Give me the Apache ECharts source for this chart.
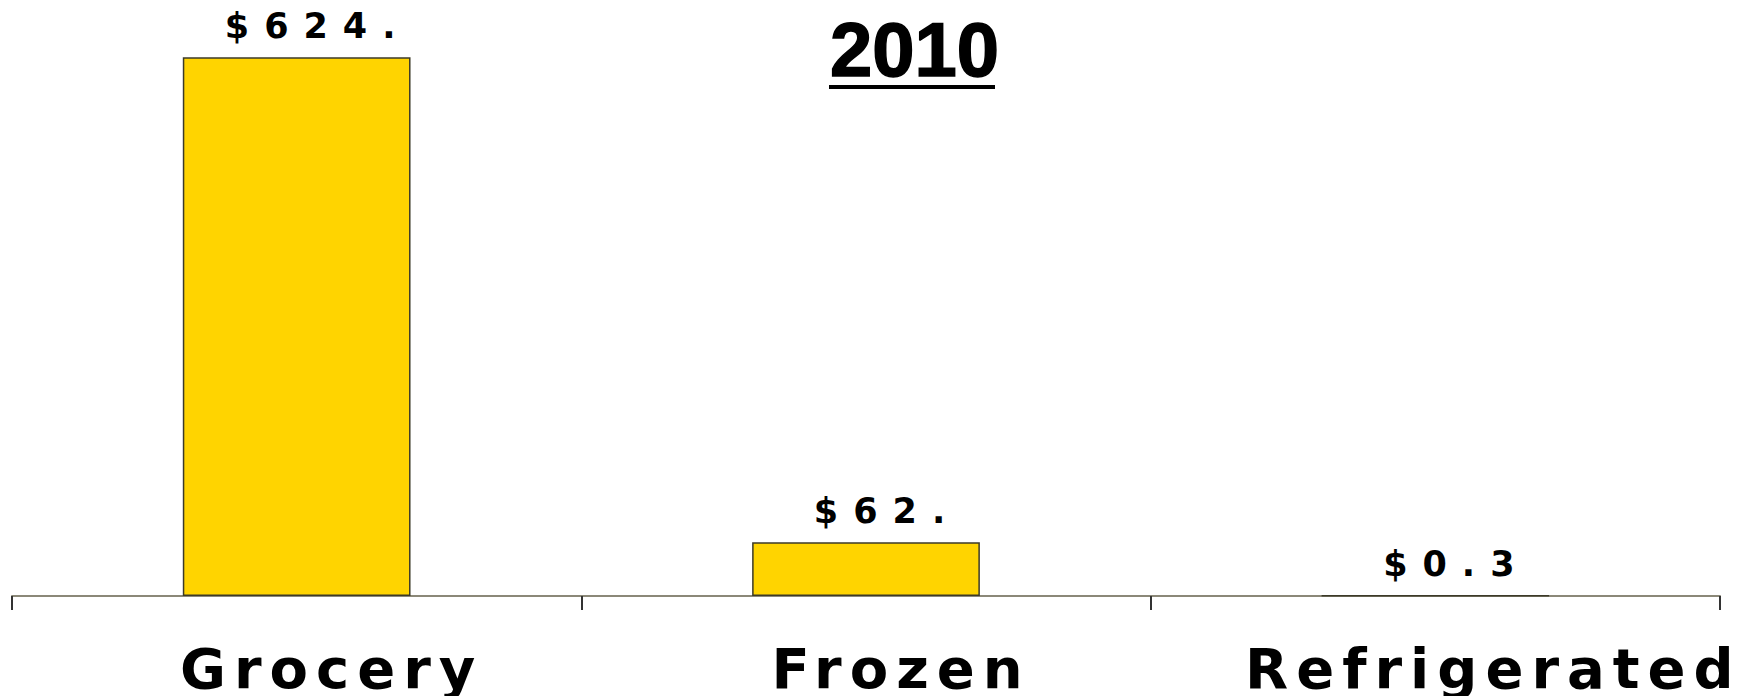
<!DOCTYPE html>
<html>
<head>
<meta charset="utf-8">
<script src="https://cdn.jsdelivr.net/npm/echarts@6/dist/echarts.min.js"></script>
<style>
  html, body { margin: 0; padding: 0; background: #fff; }
  #chart { width: 1741px; height: 696px; }
  #chart text[style*="DejaVu"][style*="56px"] { letter-spacing: 8px; }
  #chart text[style*="DejaVu"][style*="35px"] { letter-spacing: 15px; }
</style>
</head>
<body>
<div id="chart"></div>
<script>
const titleText = '2010';
const categories = ['Grocery', 'Frozen', 'Refrigerated'];
const values = [624.3, 62.4, 0.3];
const valueLabels = ['$624.', '$62.', '$0.3'];
const labelShift = [70, 70, 116];

const chart = echarts.init(document.getElementById('chart'), null, { renderer: 'svg' });
chart.setOption({
  animation: false,
  backgroundColor: '#ffffff',
  title: {
    text: titleText,
    left: 825,
    top: 6,
    textStyle: {
      fontFamily: 'Liberation Sans', fontWeight: 'bold', fontSize: 76, color: '#000',
      textBorderColor: '#000', textBorderWidth: 1.5
    }
  },
  graphic: [{
    type: 'rect',
    shape: { x: 829, y: 85, width: 166, height: 4 },
    style: { fill: '#000' }
  }],
  grid: { left: 12, right: 21, top: 35, bottom: 98, containLabel: false },
  xAxis: {
    type: 'category',
    data: categories.map(function (c, i) {
      return { value: c, textStyle: { padding: [0, 0, 0, labelShift[i]] } };
    }),
    boundaryGap: true,
    axisLine: { show: true, lineStyle: { color: '#8b8878', width: 2 } },
    axisTick: { show: true, alignWithLabel: false, length: 14, lineStyle: { color: '#333', width: 2 } },
    axisLabel: {
      interval: 0,
      margin: 44,
      padding: [0, 0, 0, 70],
      fontFamily: 'DejaVu Sans',
      fontWeight: 'bold',
      fontSize: 56,
      color: '#000'
    }
  },
  yAxis: {
    type: 'value',
    min: 0,
    max: 650,
    show: false,
    splitLine: { show: false }
  },
  series: [{
    type: 'bar',
    data: values,
    barWidth: '40%',
    itemStyle: { color: '#FFD400', borderColor: '#3c3a28', borderWidth: 1.5 },
    label: {
      show: true,
      position: 'top',
      distance: 14,
      offset: [21, 0],
      fontFamily: 'DejaVu Sans',
      fontWeight: 'bold',
      fontSize: 35,
      color: '#000',
      formatter: function (p) { return valueLabels[p.dataIndex]; }
    }
  }]
});
</script>
</body>
</html>
